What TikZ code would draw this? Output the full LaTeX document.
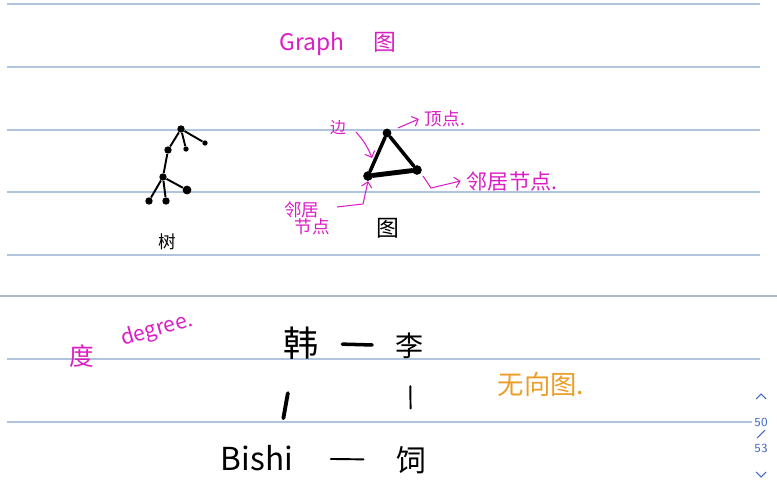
\documentclass[tikz,border=0pt]{standalone}
\usepackage{fontspec}
\setmainfont{Noto Sans CJK SC}
\usetikzlibrary{arrows.meta}
\definecolor{pinkink}{RGB}{218,30,196}
\definecolor{orangeink}{RGB}{236,158,42}
\definecolor{ruleblue}{RGB}{176,196,222}
\definecolor{rulegray}{RGB}{178,186,196}
\definecolor{navblue}{RGB}{64,104,196}
\newcommand{\fs}[1]{\fontsize{#1}{1.15\dimexpr #1\relax}\selectfont}
\tikzset{
  rule/.style={ruleblue, line width=0.7pt},
  dot/.style={circle, fill=black, inner sep=0pt, minimum size=4.2pt},
  branch/.style={line width=1.1pt},
  side/.style={line width=2pt, line cap=round},
  pen/.style={pinkink, line width=0.6pt, -{Straight Barb[length=3pt]}},
  bond/.style={line width=1.1pt, line cap=round},
  nav/.style={text=navblue, font=\sffamily\fs{7pt}, inner sep=0pt}
}
\begin{document}
\begin{tikzpicture}[x=0.02cm, y=-0.02cm]
  \useasboundingbox (0,0) rectangle (777,483);
  % ruled paper
  \foreach \y in {4,67,130,192,255,359}
    \draw[rule] (7,\y) -- (760,\y);
  \draw[rule] (7,422) -- (752,422);
  \draw[rulegray, line width=0.8pt] (0,296) -- (777,296);

  % title
  \node[text=pinkink, font=\fs{13pt}] (title) at (338,44) {Graph\hspace{1.3em}图};

  % tree
  \node[dot] (t0) at (181,129) {};
  \node[dot, minimum size=3pt] (t1) at (186,149) {};
  \node[dot, minimum size=3pt] (t2) at (205,143) {};
  \node[dot] (t3) at (168,150) {};
  \node[dot] (t4) at (163,177) {};
  \node[dot] (t5) at (149,201) {};
  \node[dot] (t6) at (166,201) {};
  \node[dot, minimum size=5pt] (t7) at (187,190) {};
  \draw[branch] (t0) -- (t1);
  \draw[branch] (t0) -- (t2);
  \draw[branch] (t0) -- (t3) -- (t4);
  \draw[branch] (t4) -- (t5);
  \draw[branch] (t4) -- (t6);
  \draw[branch] (t4) -- (t7);
  \node[font=\fs{10pt}] (tree) at (167,242) {树};

  % triangle
  \node[dot, minimum size=5pt] (va) at (387,133) {};
  \node[dot, minimum size=5.5pt] (vb) at (368,176) {};
  \node[dot, minimum size=5.5pt] (vc) at (417,170) {};
  \draw[side] (va) -- (vb);
  \draw[side] (va) -- (vc);
  \draw[side, line width=2.8pt] (vb) -- (vc);
  \node[font=\fs{13pt}] (graph) at (388,228) {图};

  % labels on the triangle
  \node[text=pinkink, font=\fs{9pt}] (bian) at (338,128) {边};
  \coordinate (e1) at (372,158);
  \draw[pen] (356,132) to[bend left=10] (e1);
  \node[text=pinkink, font=\fs{10pt}] (ding) at (445,119) {顶点.};
  \draw[pen] (398,128) -- (ding.west);
  \node[text=pinkink, font=\fs{12pt}] (nbr1) at (512,181) {邻居节点.};
  \draw[pen] (423,176) -- (431,188) -- (nbr1.west);
  \node[text=pinkink, font=\fs{10pt}, align=left] (nbr2) at (307,218) {邻居\\[-2pt]\hspace{0.6em}节点};
  \draw[pen] (337,207) -- (363,204) -- (vb.south);

  % degree
  \node[text=pinkink, font=\fs{14pt}, inner sep=0pt] (du) at (82,356) {度};
  \node[text=pinkink, font=\fs{12pt}, rotate=16, inner sep=0pt] (degree) at (157,330) {degree.};

  % small undirected graph
  \node[font=\fs{20pt}] (han) at (301,343) {韩};
  \node[font=\fs{16pt}] (li) at (410,346) {李};
  \node[font=\fs{18pt}] (bishi) at (257,458) {Bishi};
  \node[font=\fs{17pt}] (si) at (411,460) {饲};
  \draw[bond, line width=2pt, shorten <=10pt, shorten >=10pt] (han) -- (li);
  \draw[bond, line width=2.2pt, shorten <=16pt, shorten >=12pt] (han.250) -- (bishi.40);
  \draw[bond, shorten <=12pt, shorten >=18pt] (li.south) -- (si.north);
  \draw[bond, shorten <=18pt, shorten >=15pt] (bishi) -- (si);
  \node[text=orangeink, font=\fs{15pt}] (undir) at (541,384) {无向图.};

  % page counter
  \draw[navblue, line width=0.6pt] (756,399) -- (761,394) -- (766,399);
  \node[nav] (cur) at (761,422) {50};
  \draw[navblue, line width=0.6pt] (757,438) -- (765,430);
  \node[nav] (tot) at (761,448) {53};
  \draw[navblue, line width=0.6pt] (756,472) -- (761,477) -- (766,472);
\end{tikzpicture}
\end{document}
